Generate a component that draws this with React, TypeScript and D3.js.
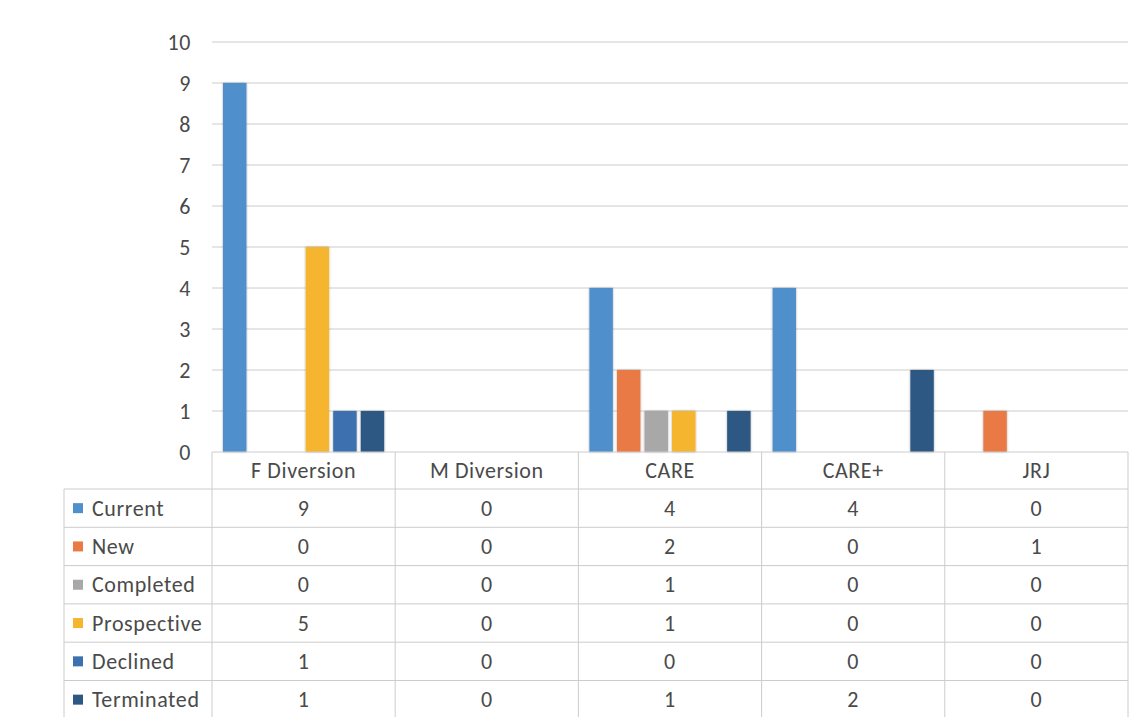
import React from "react";
import * as d3 from "d3";

const categories = ["F Diversion", "M Diversion", "CARE", "CARE+", "JRJ"];
const seriesNames = ["Current", "New", "Completed", "Prospective", "Declined", "Terminated"];
const current = [9, 0, 4, 4, 0];
const newer = [0, 0, 2, 0, 1];
const completed = [0, 0, 1, 0, 0];
const prospective = [5, 0, 1, 0, 0];
const declined = [1, 0, 0, 0, 0];
const terminated = [1, 0, 1, 2, 0];
const seriesValues = [current, newer, completed, prospective, declined, terminated];
const seriesColors = ["#4f8fcb", "#ea7a45", "#a8a8a8", "#f6b52e", "#3d70ae", "#2e5884"];
const yTicks = [0, 1, 2, 3, 4, 5, 6, 7, 8, 9, 10];

export default function App() {
  const W = 1145, H = 725;
  const plotLeft = 212, plotRight = 1128;
  const plotTop = 42, plotBottom = 452;
  const tableLeft = 64;
  const headerH = 37;
  const rowH = 38.3;
  const font = "Carlito, Calibri, 'Open Sans', sans-serif";
  const textColor = "#4a4a4a";
  const gridColor = "#cccccc";
  const fs = 22;
  const ls = 0.6;

  const x0 = d3.scaleBand<string>().domain(categories).range([plotLeft, plotRight]).paddingInner(0).paddingOuter(0);
  const x1 = d3.scaleBand<string>().domain(seriesNames).range([0, x0.bandwidth()]).paddingInner(0.15).paddingOuter(0.4);
  const y = d3.scaleLinear().domain([0, 10]).range([plotBottom, plotTop]);

  const tableBottom = plotBottom + headerH + rowH * seriesNames.length;

  return (
    <div style={{ margin: -8 }}>
      <svg width={W} height={H} style={{ display: "block", background: "#fff" }}>
        <defs>
          <filter id="sh" x="-30%" y="-10%" width="160%" height="120%">
            <feDropShadow dx="0" dy="0" stdDeviation="1.3" floodColor="#000" floodOpacity="0.35" />
          </filter>
        </defs>
        {yTicks.map((t) => (
          <g key={t}>
            {t > 0 && (
              <line x1={plotLeft} x2={plotRight} y1={y(t)} y2={y(t)} stroke={gridColor} strokeWidth={1} />
            )}
            <text x={191} y={y(t)} dy="0.35em" textAnchor="end" fontFamily={font} fontSize={fs}
              letterSpacing={ls} fill={textColor}>
              {t}
            </text>
          </g>
        ))}
        {categories.map((c, ci) =>
          seriesNames.map((s, si) => {
            const v = seriesValues[si][ci];
            if (v <= 0) return null;
            const bx = (x0(c) as number) + (x1(s) as number);
            return (
              <rect key={c + s} x={bx} y={y(v)} width={x1.bandwidth()} height={y(0) - y(v)}
                fill={seriesColors[si]} filter="url(#sh)" />
            );
          })
        )}
        {/* table */}
        <line x1={plotLeft} x2={plotRight} y1={plotBottom} y2={plotBottom} stroke={gridColor} />
        {categories.map((c) => (
          <g key={c}>
            <line x1={x0(c)} x2={x0(c)} y1={plotBottom} y2={tableBottom} stroke={gridColor} />
            <text x={(x0(c) as number) + x0.bandwidth() / 2} y={plotBottom + headerH / 2} dy="0.35em"
              textAnchor="middle" fontFamily={font} fontSize={fs} letterSpacing={ls} fill={textColor}>{c}</text>
          </g>
        ))}
        <line x1={plotRight} x2={plotRight} y1={plotBottom} y2={tableBottom} stroke={gridColor} />
        <line x1={tableLeft} x2={tableLeft} y1={plotBottom + headerH} y2={tableBottom} stroke={gridColor} />
        {seriesNames.map((s, si) => {
          const ry = plotBottom + headerH + rowH * si;
          return (
            <g key={s}>
              <line x1={tableLeft} x2={plotRight} y1={ry} y2={ry} stroke={gridColor} />
              <rect x={73} y={ry + rowH / 2 - 5} width={10} height={10} fill={seriesColors[si]} />
              <text x={92} y={ry + rowH / 2} dy="0.35em" fontFamily={font} fontSize={fs}
                letterSpacing={ls} fill={textColor}>{s}</text>
              {categories.map((c, ci) => (
                <text key={c} x={(x0(c) as number) + x0.bandwidth() / 2} y={ry + rowH / 2} dy="0.35em"
                  textAnchor="middle" fontFamily={font} fontSize={fs} letterSpacing={ls}
                  fill={textColor}>{seriesValues[si][ci]}</text>
              ))}
            </g>
          );
        })}
        <line x1={tableLeft} x2={plotRight} y1={tableBottom} y2={tableBottom} stroke={gridColor} />
      </svg>
    </div>
  );
}
